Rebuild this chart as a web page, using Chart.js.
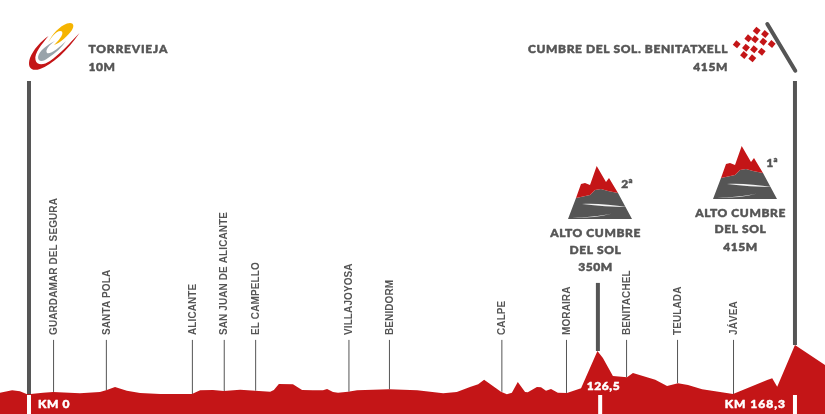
<!DOCTYPE html>
<html>
<head>
<meta charset="utf-8">
<style>
  html, body { margin: 0; padding: 0; background: #fff; overflow: hidden; }
  canvas { display: block; }
</style>
<script src="https://cdn.jsdelivr.net/npm/chart.js@4"></script>
</head>
<body>
<canvas id="perfil" width="825" height="414"></canvas>
<script>
// Perfil de la etapa: km y altitud en metros
const profileKm = [-6.4, -3.7, -2.0, -0.4, 0.4, 3.1, 5.3, 11.2, 15.6, 17.1, 18.9, 21.5, 24.4, 28.8, 35.8, 37.6, 40.4, 42.8, 46.4, 49.7, 53.0, 53.8, 54.9, 58.0, 60.0, 62.4, 64.6, 65.5, 66.8, 67.9, 70.1, 72.1, 79.1, 85.3, 91.0, 94.0, 96.9, 98.7, 100.0, 103.7, 105.0, 106.1, 107.4, 109.0, 109.6, 111.6, 112.5, 113.6, 114.7, 116.2, 118.2, 121.3, 124.9, 126.1, 128.3, 131.4, 132.7, 137.6, 140.2, 142.6, 144.8, 147.9, 154.7, 162.2, 163.3, 164.4, 168.3, 174.9];
const profileElev = [19, 39, 31, 6, 8, 19, 25, 14, 25, 42, 66, 36, 17, 8, 8, 39, 42, 33, 44, 36, 27, 42, 91, 89, 42, 39, 39, 50, 25, 19, 27, 39, 47, 39, 14, 25, 66, 89, 127, 27, 6, 19, 108, 25, 22, 66, 64, 36, 50, 19, 17, 56, 365, 307, 158, 147, 183, 127, 75, 97, 83, 47, 8, 125, 139, 69, 415, 249];

const townNames = ['GUARDAMAR DEL SEGURA', 'SANTA POLA', 'ALICANTE', 'SAN JUAN DE ALICANTE', 'EL CAMPELLO', 'VILLAJOYOSA', 'BENIDORM', 'CALPE', 'MORAIRA', 'BENITACHEL', 'TEULADA', 'JÁVEA'];
const townKm = [5.4, 17.0, 35.9, 42.9, 49.8, 70.3, 79.2, 103.9, 118.1, 131.3, 142.5, 154.8];
const townElev = [25, 40, 8, 33, 36, 27, 47, 27, 17, 147, 97, 8];
const stemTop = 457;

const poleKm = [0, 125.0, 168.3];
const poleBase = [0, 365, 415];
const poleTop = [2606, 930, 2606];
const slotKm = [0, 125.5, 168.3];

const xMin = -6.37, xMax = 174.9;
const yMin = -158, yMax = 3278;

const GRIS = '#555555';
const ROJO = '#c41517';
const FUENTE = 'Lato, "Open Sans", sans-serif';

function linea(km, desde, hasta, color, ancho) {
  return {
    data: [{ x: km, y: desde }, { x: km, y: hasta }],
    borderColor: color,
    borderWidth: ancho,
    pointRadius: 0,
    borderCapStyle: 'butt',
    order: 3
  };
}

function texto(ctx, str, x, y, align, color, spacing) {
  ctx.font = '900 12px ' + FUENTE;
  ctx.letterSpacing = spacing + 'px';
  ctx.textAlign = align;
  ctx.textBaseline = 'middle';
  ctx.fillStyle = color;
  ctx.strokeStyle = color;
  ctx.lineWidth = 0.5;
  ctx.lineJoin = 'round';
  ctx.strokeText(str, x, y);
  ctx.fillText(str, x, y);
  ctx.letterSpacing = '0px';
}

function poly(ctx, pts, color) {
  ctx.fillStyle = color;
  ctx.beginPath();
  pts.forEach((p, i) => i ? ctx.lineTo(p[0], p[1]) : ctx.moveTo(p[0], p[1]));
  ctx.closePath();
  ctx.fill();
}

function dibujarMontana(ctx, dx, dy) {
  ctx.save();
  ctx.translate(dx, dy);
  poly(ctx, [[576, 198], [568, 219], [632, 219], [618, 193], [608, 191], [601, 189], [595, 190], [590, 195]], GRIS);
  poly(ctx, [[576, 198], [581, 184], [585, 183], [590, 185], [596.7, 166], [606, 182], [609, 178], [618, 193], [608, 191], [601, 189], [595, 190], [590, 195]], ROJO);
  // carretera
  ctx.fillStyle = '#f4f4f4';
  ctx.beginPath();
  ctx.moveTo(582, 204);
  ctx.bezierCurveTo(595, 203, 612, 205, 627, 207);
  ctx.bezierCurveTo(612, 207, 598, 206, 582, 204);
  ctx.fill();
  ctx.beginPath();
  ctx.moveTo(572, 218);
  ctx.bezierCurveTo(585, 217.5, 600, 216, 612, 213.5);
  ctx.bezierCurveTo(602, 216.5, 588, 218, 572, 218);
  ctx.fill();
  ctx.restore();
}

function dibujarLogo(ctx) {
  ctx.fillStyle = ROJO;
  ctx.beginPath();
  ctx.moveTo(79.5, 33);
  ctx.bezierCurveTo(68, 50, 52, 65, 40, 69);
  ctx.bezierCurveTo(31, 72, 27, 67, 30, 58);
  ctx.bezierCurveTo(33, 50, 41, 41, 48.5, 36);
  ctx.bezierCurveTo(42, 44, 34, 53, 35.5, 60);
  ctx.bezierCurveTo(37, 66, 44, 65, 50, 61);
  ctx.bezierCurveTo(60, 54, 70, 43, 79.5, 33);
  ctx.fill();

  ctx.fillStyle = '#98a3aa';
  ctx.beginPath();
  ctx.moveTo(55, 41);
  ctx.bezierCurveTo(47, 45, 39, 51, 38, 57);
  ctx.bezierCurveTo(38, 62, 43, 62, 48, 58);
  ctx.bezierCurveTo(56, 53, 62, 47, 66, 41);
  ctx.bezierCurveTo(59, 48, 50, 55, 47, 53);
  ctx.bezierCurveTo(45, 50, 49, 45, 55, 41);
  ctx.fill();

  ctx.fillStyle = '#f5b400';
  ctx.beginPath();
  ctx.moveTo(48, 43);
  ctx.bezierCurveTo(52, 34, 60, 26, 67, 23.5);
  ctx.bezierCurveTo(73, 21.5, 75, 25, 72, 30);
  ctx.bezierCurveTo(68, 36, 60, 43, 54, 45);
  ctx.bezierCurveTo(58, 41, 64, 35, 62, 31.5);
  ctx.bezierCurveTo(58, 29, 52, 36, 48, 43);
  ctx.fill();
}

function dibujarBandera(ctx) {
  ctx.strokeStyle = GRIS;
  ctx.lineWidth = 4;
  ctx.lineCap = 'round';
  ctx.beginPath();
  ctx.moveTo(767.3, 24);
  ctx.lineTo(795.3, 70.7);
  ctx.stroke();

  const cuadros = [[756.7, 30.7], [765, 34], [748.3, 38.3], [755, 39.3], [763.3, 41.7], [771.7, 44], [736.7, 44.3], [746, 47.7], [754, 49.3], [761.7, 51.7], [744, 55], [752.3, 58.3]];
  ctx.fillStyle = ROJO;
  cuadros.forEach(c => {
    ctx.save();
    ctx.translate(c[0], c[1]);
    ctx.rotate(0.7);
    ctx.fillRect(-2.8, -2.8, 5.6, 5.6);
    ctx.restore();
  });
}

const decorado = {
  id: 'decorado',
  afterDatasetsDraw(chart) {
    const ctx = chart.ctx;
    const x = chart.scales.x;

    ctx.save();
    dibujarLogo(ctx);
    dibujarBandera(ctx);
    dibujarMontana(ctx, 0, 0);
    dibujarMontana(ctx, 145, -20);

    texto(ctx, 'TORREVIEJA', 88.5, 49.5, 'left', GRIS, 0.8);
    texto(ctx, '10M', 88.5, 67, 'left', GRIS, 0.6);
    texto(ctx, 'CUMBRE DEL SOL. BENITATXELL', 728, 49.5, 'right', GRIS, 0.6);
    texto(ctx, '415M', 728, 67, 'right', GRIS, 0.6);

    texto(ctx, 'ALTO CUMBRE', 595.5, 233, 'center', GRIS, 0.6);
    texto(ctx, 'DEL SOL', 595.5, 250, 'center', GRIS, 0.6);
    texto(ctx, '350M', 595.5, 267, 'center', GRIS, 0.6);
    texto(ctx, '2ª', 627, 184, 'center', GRIS, 0);

    texto(ctx, 'ALTO CUMBRE', 740.5, 213, 'center', GRIS, 0.6);
    texto(ctx, 'DEL SOL', 740.5, 229.5, 'center', GRIS, 0.6);
    texto(ctx, '415M', 740.5, 247, 'center', GRIS, 0.6);
    texto(ctx, '1ª', 772, 163.5, 'center', GRIS, 0);

    texto(ctx, 'KM 0', 38, 404, 'left', '#fff', 0.6);
    texto(ctx, 'KM 168,3', 786, 404, 'right', '#fff', 1);
    texto(ctx, '126,5', 603.5, 386, 'center', '#fff', 0.6);

    // nombres de las poblaciones en vertical
    townNames.forEach((name, i) => {
      ctx.save();
      ctx.translate(x.getPixelForValue(townKm[i]) + 0.5, 335);
      ctx.rotate(-Math.PI / 2);
      ctx.font = 'bold 10px "Liberation Sans", Arial, sans-serif';
      ctx.letterSpacing = '0.1px';
      ctx.textAlign = 'left';
      ctx.textBaseline = 'middle';
      ctx.fillStyle = GRIS;
      ctx.fillText(name, 0, 0);
      ctx.restore();
    });
    ctx.restore();
  }
};

const datasets = [{
  data: profileKm.map((km, i) => ({ x: km, y: profileElev[i] })),
  borderColor: ROJO,
  borderWidth: 0,
  backgroundColor: ROJO,
  pointRadius: 0,
  tension: 0,
  fill: 'start',
  order: 2
}];

townKm.forEach((km, i) => datasets.push(linea(km, townElev[i], stemTop, GRIS, 1)));
poleKm.forEach((km, i) => datasets.push(linea(km, poleBase[i], poleTop[i], GRIS, 4)));
slotKm.forEach(km => {
  const s = linea(km, 0, yMin, '#ffffff', 4);
  s.order = 1;
  datasets.push(s);
});

new Chart(document.getElementById('perfil'), {
  type: 'line',
  data: { datasets: datasets },
  options: {
    responsive: false,
    animation: false,
    layout: { padding: 0 },
    plugins: { legend: { display: false }, tooltip: { enabled: false } },
    scales: {
      x: { type: 'linear', display: false, min: xMin, max: xMax },
      y: { type: 'linear', display: false, min: yMin, max: yMax }
    }
  },
  plugins: [decorado]
});
</script>
</body>
</html>
